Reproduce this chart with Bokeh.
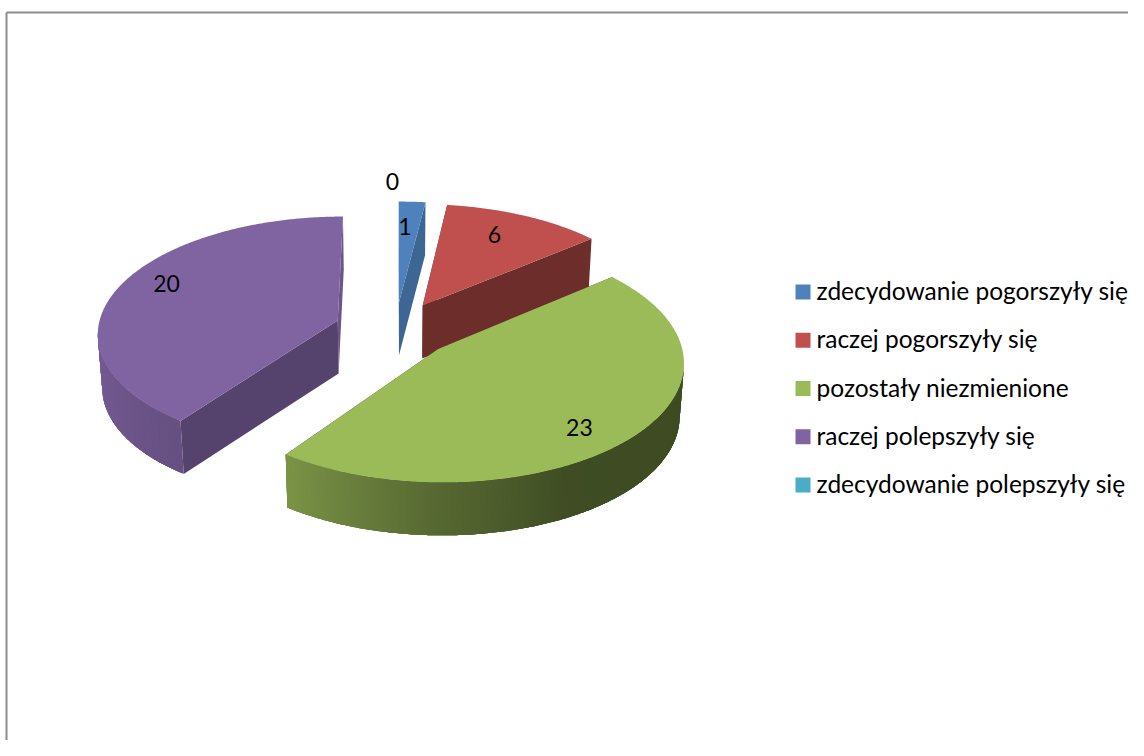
import numpy as np
from bokeh.plotting import figure
from bokeh.models import Range1d, ColumnDataSource
from bokeh.core.properties import value
from bokeh.embed import file_html
from bokeh.resources import INLINE

categories = ["zdecydowanie pogorszyły się", "raczej pogorszyły się", "pozostały niezmienione",
              "raczej polepszyły się", "zdecydowanie polepszyły się"]
values = [1, 6, 23, 20, 0]
colors = ["#4f81bd", "#c0504d", "#9bbb59", "#8064a2", "#4bacc6"]

# projection of the tilted disc (reference pixels)
CX, CY, AX, BY, PERSP = 395.0, 329.0, 240.0, 116.0, 0.1
DEPTH, SHRINK = 53.0, 0.985
explode = [0.24, 0.24, 0.24, 0.255, 0.24]
end_face_shade = [0.79, 0.56, 0.40, 0.85, 0.5]
start_face_shade = [0.6, 0.6, 0.40, 0.67, 0.5]
label_rho = [0.736, 0.73, 0.8, 0.85, 1.22]
label_nudge = [(-4, 0), (-4.5, -4), (-12, 9), (15, -8), (-3, 0)]
rim_angle = [90, 150, 180, 216, 270]
rim_shade = [0.405, 0.41, 0.56, 0.8, 0.95]
FONT, FS, LEG_FS = "Lato", "23px", "24.5px"


def project(u, v):
    w = 1 - PERSP * np.asarray(v, float)
    return CX + AX * np.asarray(u, float) / w, CY + BY * np.asarray(v, float) / w


def low(x, y):
    return CX + (np.asarray(x) - CX) * SHRINK, np.asarray(y) + DEPTH


def shade(hex_color, f):
    r, g, b = (int(hex_color[i:i + 2], 16) for i in (1, 3, 5))
    return "#%02x%02x%02x" % (round(r * f), round(g * f), round(b * f))


p = figure(width=1128, height=740, output_backend="svg", toolbar_location=None,
           x_range=Range1d(0, 1128), y_range=Range1d(740, 0), min_border=0,
           outline_line_color=None, background_fill_color="white", border_fill_color="white")
p.axis.visible = False
p.grid.visible = False

# chart frame
FRAME_X, FRAME_Y = 6, 12
p.line([FRAME_X, FRAME_X], [760, FRAME_Y], line_color="#8c8c8c", line_width=2)
p.line([FRAME_X, 1150], [FRAME_Y, FRAME_Y], line_color="#8c8c8c", line_width=2)

total = sum(values)
starts = np.cumsum([0] + values[:-1]) / total * 360.0
ends = np.cumsum(values) / total * 360.0

lab_x, lab_y, lab_t = [], [], []
for i in [3, 0, 1, 2, 4]:
    a0, a1 = starts[i], ends[i]
    mid = np.radians((a0 + a1) / 2)
    ou, ov = explode[i] * np.sin(mid), -explode[i] * np.cos(mid)
    th = np.radians(np.linspace(a0, a1, max(2, int((a1 - a0) * 2) + 1)))
    u, v = ou + np.sin(th), ov - np.cos(th)
    x, y = project(u, v)
    ax, ay = project([ou], [ov])
    ax, ay = float(ax[0]), float(ay[0])
    lx, ly = low(x, y)
    lax, lay = low(ax, ay)
    if values[i] > 0:
        # cut faces, then the outer rim, then the top
        p.patch([x[0], ax, lax, lx[0]], [y[0], ay, lay, ly[0]],
                fill_color=shade(colors[i], start_face_shade[i]), line_color=None)
        p.patch([x[-1], ax, lax, lx[-1]], [y[-1], ay, lay, ly[-1]],
                fill_color=shade(colors[i], end_face_shade[i]), line_color=None)
        xs, ys, cs = [], [], []
        n = len(th)
        for k in range(n - 1):
            if x[k + 1] < x[k]:
                # each facet reaches over its neighbour so that no seams show
                e = min(k + 4, n - 1)
                xs.append(list(x[k:e + 1]) + list(lx[k:e + 1][::-1]))
                ys.append(list(y[k:e + 1]) + list(ly[k:e + 1][::-1]))
                deg = np.degrees((th[k] + th[k + 1]) / 2)
                cs.append(shade(colors[i], float(np.interp(deg, rim_angle, rim_shade))))
        if xs:
            # paint from the far end so that overlaps fall the same way
            p.patches("xs", "ys", fill_color="c", line_color=None,
                      source=ColumnDataSource(dict(xs=xs[::-1], ys=ys[::-1], c=cs[::-1])))
        p.patch(list(x) + [ax], list(y) + [ay], fill_color=colors[i], line_color=None)
    lu = ou + label_rho[i] * np.sin(mid)
    lv = ov - label_rho[i] * np.cos(mid)
    tx, ty = project([lu], [lv])
    lab_x.append(float(tx[0]) + label_nudge[i][0])
    lab_y.append(float(ty[0]) + label_nudge[i][1])
    lab_t.append(str(values[i]))

p.text(lab_x, lab_y, text=lab_t, text_font=value(FONT), text_font_size=value(FS),
       text_color="black", text_align="center", text_baseline="middle")

# legend
LEG_X, LEG_Y, LEG_DY, SW = 795, 291.5, 48.25, 15
leg_y = [LEG_Y + k * LEG_DY for k in range(len(categories))]
p.rect([LEG_X + SW / 2] * len(categories), leg_y, width=SW, height=SW, fill_color=colors, line_color=None)
p.text([LEG_X + 21] * len(categories), [y - 1.5 for y in leg_y], text=categories, text_font=value(FONT),
       text_font_size=value(LEG_FS), text_color="black", text_align="left", text_baseline="middle")

open("out.html", "w").write(file_html(p, INLINE))
